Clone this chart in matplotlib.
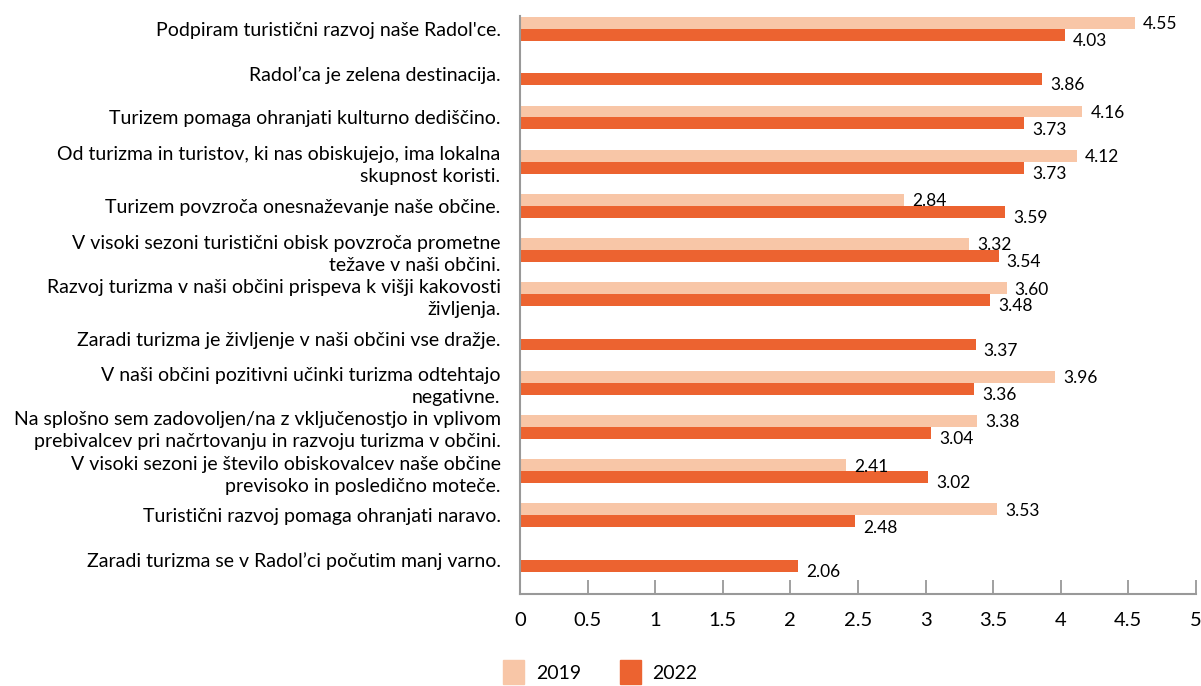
import numpy as np
import matplotlib.pyplot as plt
from matplotlib.patches import Patch

plt.rcParams['font.family'] = ['Lato', 'DejaVu Sans']

statements = [
    "Podpiram turistični razvoj naše Radol'ce.",
    "Radol’ca je zelena destinacija.",
    "Turizem pomaga ohranjati kulturno dediščino.",
    "Od turizma in turistov, ki nas obiskujejo, ima lokalna\nskupnost koristi.",
    "Turizem povzroča onesnaževanje naše občine.",
    "V visoki sezoni turistični obisk povzroča prometne\ntežave v naši občini.",
    "Razvoj turizma v naši občini prispeva k višji kakovosti\nživljenja.",
    "Zaradi turizma je življenje v naši občini vse dražje.",
    "V naši občini pozitivni učinki turizma odtehtajo\nnegativne.",
    "Na splošno sem zadovoljen/na z vključenostjo in vplivom\nprebivalcev pri načrtovanju in razvoju turizma v občini.",
    "V visoki sezoni je število obiskovalcev naše občine\nprevisoko in posledično moteče.",
    "Turistični razvoj pomaga ohranjati naravo.",
    "Zaradi turizma se v Radol’ci počutim manj varno.",
]
vals_2019 = [4.55, None, 4.16, 4.12, 2.84, 3.32, 3.60, None, 3.96, 3.38, 2.41, 3.53, None]
vals_2022 = [4.03, 3.86, 3.73, 3.73, 3.59, 3.54, 3.48, 3.37, 3.36, 3.04, 3.02, 2.48, 2.06]
years = ['2019', '2022']
colors = ['#F8C6A7', '#EC6330']

fig = plt.figure(figsize=(12.01, 6.86), dpi=100)
ax = fig.add_axes([0.433, 0.134, 0.5627, 0.843])

y = np.arange(len(statements))
h = 0.27
for i, (v19, v22) in enumerate(zip(vals_2019, vals_2022)):
    if v19 is not None:
        ax.barh(y[i] - h / 2, v19, height=h, color=colors[0])
        ax.text(v19 + 0.06, y[i] - h / 2 + 0.03, f"{v19:.2f}", va='center', ha='left', fontsize=12.5)
    ax.barh(y[i] + h / 2, v22, height=h, color=colors[1])
    ax.text(v22 + 0.06, y[i] + h / 2 + 0.14, f"{v22:.2f}", va='center', ha='left', fontsize=12.5)

ax.set_xlim(0, 5)
ax.set_ylim(12.78, -0.3)
ax.set_xticks(np.arange(0, 5.01, 0.5))
ax.set_xticklabels(['0', '0.5', '1', '1.5', '2', '2.5', '3', '3.5', '4', '4.5', '5'], fontsize=14.5)
ax.set_yticks(y)
ax.set_yticklabels(statements, fontsize=14, multialignment='right', linespacing=1.35)
ax.tick_params(axis='y', length=0, pad=14)
ax.tick_params(axis='x', direction='in', length=10, color='#999999', width=1.3, pad=13)
for s in ['top', 'right']:
    ax.spines[s].set_visible(False)
for s in ['left', 'bottom']:
    ax.spines[s].set_color('#999999')
    ax.spines[s].set_linewidth(1.5)

handles = [Patch(color=c, label=yr) for c, yr in zip(colors, years)]
fig.legend(handles=handles, loc='center', bbox_to_anchor=(0.50, 0.02), ncol=2, frameon=False,
           fontsize=14, handlelength=1.08, handleheight=1.5, columnspacing=2.0, handletextpad=0.6)

fig.savefig('out.png', dpi=100)
